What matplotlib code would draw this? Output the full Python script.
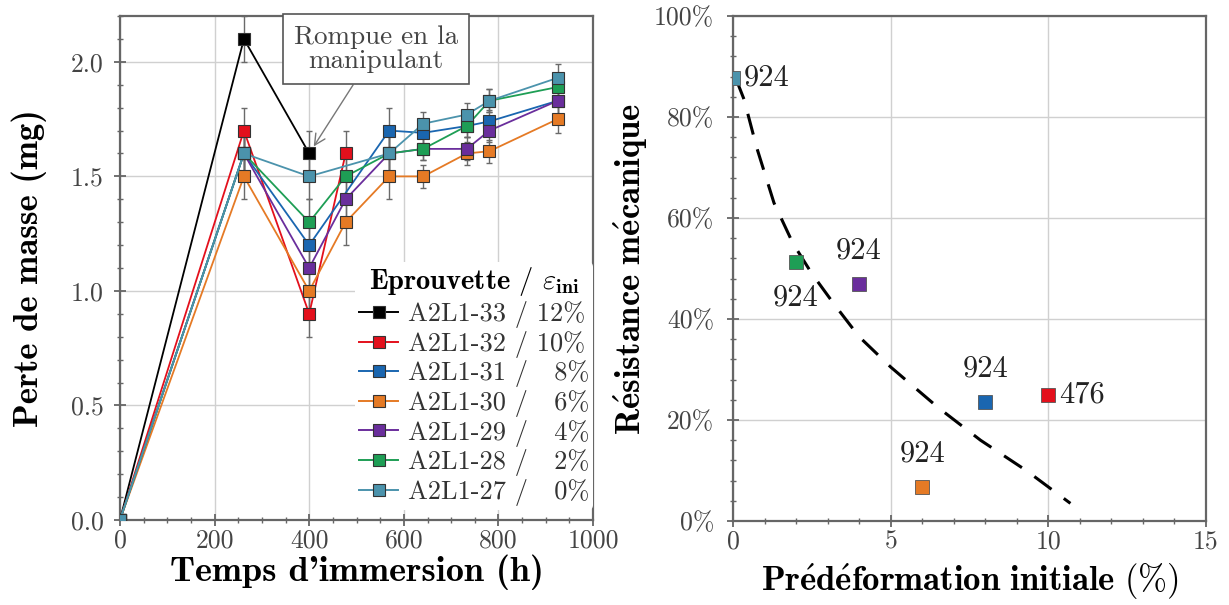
import numpy as np
import matplotlib
matplotlib.use("Agg")
import matplotlib.pyplot as plt
from matplotlib.ticker import MultipleLocator, PercentFormatter, FormatStrFormatter
from matplotlib.lines import Line2D

plt.rcParams["font.family"] = ["cmr10", "DejaVu Serif"]
plt.rcParams["mathtext.fontset"] = "cm"
plt.rcParams["axes.unicode_minus"] = False

# =====================================================
# Data - left panel (mass loss vs immersion time)
# =====================================================

times = [0, 262, 400, 477, 569, 641, 733, 781, 925]
err_mg = [0.0, 0.10, 0.10, 0.10, 0.10, 0.05, 0.05, 0.05, 0.06]

names = ["A2L1-33", "A2L1-32", "A2L1-31", "A2L1-30", "A2L1-29", "A2L1-28", "A2L1-27"]
strains = [12, 10, 8, 6, 4, 2, 0]

nan = np.nan
m_33 = [0, 2.10, 1.60, nan, nan, nan, nan, nan, nan]
m_32 = [0, 1.70, 0.90, 1.60, nan, nan, nan, nan, nan]
m_31 = [0, 1.60, 1.20, nan, 1.70, 1.69, 1.72, 1.74, 1.83]
m_30 = [0, 1.50, 1.00, 1.30, 1.50, 1.50, 1.60, 1.61, 1.75]
m_29 = [0, 1.60, 1.10, 1.40, 1.60, 1.62, 1.62, 1.70, 1.83]
m_28 = [0, 1.60, 1.30, 1.50, 1.60, 1.62, 1.72, 1.83, 1.89]
m_27 = [0, 1.60, 1.50, nan, 1.60, 1.73, 1.77, 1.83, 1.93]

# =====================================================
# Data - right panel (residual strength vs pre-strain)
# =====================================================

pre_strain = [0, 2, 4, 6, 8, 10]
resistance = [0.877, 0.513, 0.469, 0.068, 0.236, 0.250]
durations = ["924", "924", "924", "924", "924", "476"]

# trend curve
trend_x = [0.1, 0.35, 0.75, 1.3, 1.9, 2.5, 3.2, 4.0, 5.0, 6.5, 7.85, 9.3, 10.7]
trend_y = [0.875, 0.835, 0.74, 0.63, 0.55, 0.49, 0.43, 0.365, 0.305, 0.225, 0.16, 0.10, 0.035]

# =====================================================
# Style
# =====================================================

colors = ["#000000", "#E3101C", "#1A66B0", "#E57A25", "#6A2E9C", "#1E9E55", "#4B93AC"]
strain_colors = ["#4B93AC", "#1E9E55", "#6A2E9C", "#E57A25", "#1A66B0", "#E3101C"]
spine_col = "#666666"
grid_col = "#D0D0D0"
tick_fs = 18.5
bold_fam = ["cmb10", "DejaVu Serif"]


def style_axes(ax):
    for s in ax.spines.values():
        s.set_color(spine_col)
        s.set_linewidth(1.6)
    ax.tick_params(which="both", direction="inout", colors=spine_col,
                   labelcolor="#444444", labelsize=tick_fs)
    ax.tick_params(which="major", length=9, width=1.3)
    ax.tick_params(which="minor", length=5, width=1.0)
    ax.tick_params(axis="y", which="major", pad=7)
    ax.tick_params(axis="x", which="major", pad=2)
    ax.grid(True, which="major", color=grid_col, linewidth=1.0)
    ax.set_axisbelow(True)


fig = plt.figure(figsize=(12.29, 6.05), dpi=100)

# =====================================================
# Left panel
# =====================================================

ax1 = fig.add_axes([0.0976, 0.1405, 0.385, 0.833])
style_axes(ax1)

series = [m_33, m_32, m_31, m_30, m_29, m_28, m_27]
t = np.array(times, dtype=float)
e = np.array(err_mg)

handles = []
for vals, col, name, st in zip(series, colors, names, strains):
    v = np.array(vals, dtype=float)
    ok = np.isfinite(v)
    ax1.errorbar(t[ok], v[ok], yerr=e[ok], fmt="none", ecolor="#6A6A6A",
                 elinewidth=1.0, capsize=2.5, capthick=1.0, zorder=2)
    ax1.plot(t[ok], v[ok], color=col, linewidth=1.3, marker="s",
             markersize=8.5, markerfacecolor=col, markeredgecolor="#333333",
             markeredgewidth=0.8, zorder=3)
    pad = "  " if st < 10 else ""
    handles.append(Line2D([], [], color=col, linewidth=1.4, marker="s",
                          markersize=8.5, markerfacecolor=col,
                          markeredgecolor="#333333", markeredgewidth=0.8,
                          label=f"{name} / {pad}{st}%"))

ax1.set_xlim(0, 1000)
ax1.set_ylim(0, 2.2)
ax1.xaxis.set_major_locator(MultipleLocator(200))
ax1.xaxis.set_minor_locator(MultipleLocator(50))
ax1.yaxis.set_major_locator(MultipleLocator(0.5))
ax1.yaxis.set_minor_locator(MultipleLocator(0.1))
ax1.yaxis.set_major_formatter(FormatStrFormatter("%.1f"))

ax1.set_xlabel("Temps d'immersion (h)", fontsize=26, family=bold_fam, labelpad=1)
ax1.set_ylabel("Perte de masse (mg)", fontsize=25, family=bold_fam, labelpad=17)

title = r"$\mathbf{Eprouvette}$ / $\varepsilon_{\mathbf{ini}}$"
leg = ax1.legend(handles=handles, loc="lower right", bbox_to_anchor=(1.0, 0.02),
                 title=title, fontsize=19, title_fontsize=20.5, frameon=True,
                 handlelength=1.5, handletextpad=0.35, labelspacing=0.1,
                 borderpad=0.15, borderaxespad=0.0)
leg.get_frame().set_edgecolor("none")
leg.get_frame().set_facecolor("white")
leg.get_frame().set_alpha(1.0)
for txt in leg.get_texts():
    txt.set_color("#333333")

ax1.annotate("Rompue en la\nmanipulant", xy=(400, 1.60), xytext=(541, 2.055),
             fontsize=19.5, ha="center", va="center", color="#444444",
             linespacing=1.05,
             bbox=dict(boxstyle="square,pad=0.4", fc="white", ec="#555555", lw=1.2),
             arrowprops=dict(arrowstyle="->", color="#777777", lw=1.0,
                             shrinkA=0, shrinkB=6),
             zorder=5)

# =====================================================
# Right panel
# =====================================================

ax2 = fig.add_axes([0.5964, 0.1388, 0.3849, 0.8347])
style_axes(ax2)
ax2.tick_params(axis="y", which="major", pad=9)

ax2.plot(trend_x, trend_y, color="black", linewidth=2.2, dashes=(7, 5), zorder=3)

for x, y, col in zip(pre_strain, resistance, strain_colors):
    ax2.plot(x, y, marker="s", markersize=10, color=col,
             markeredgecolor="#555555", markeredgewidth=0.6, zorder=4)

# label placement: right, below, above, above, above, right
offsets = [(8, 0, "left", "center"), (0, -16, "center", "top"),
           (0, 14, "center", "bottom"), (0, 14, "center", "bottom"),
           (0, 14, "center", "bottom"), (8, 0, "left", "center")]
for x, y, lab, (dx, dy, ha, va) in zip(pre_strain, resistance, durations, offsets):
    ax2.annotate(lab, xy=(x, y), xytext=(dx, dy), textcoords="offset points",
                 ha=ha, va=va, fontsize=22, color="#222222", zorder=5)

ax2.set_xlim(0, 15)
ax2.set_ylim(0, 1.0)
ax2.xaxis.set_major_locator(MultipleLocator(5))
ax2.xaxis.set_minor_locator(MultipleLocator(1))
ax2.yaxis.set_major_locator(MultipleLocator(0.2))
ax2.yaxis.set_minor_locator(MultipleLocator(0.04))
ax2.yaxis.set_major_formatter(PercentFormatter(1.0, decimals=0))

ax2.set_xlabel(r"$\mathbf{Pr\acute{e}d\acute{e}formation\ initiale\ (\%)}$",
               fontsize=25, labelpad=6)
ax2.set_ylabel(r"$\mathbf{R\acute{e}sistance\ m\acute{e}canique}$",
               fontsize=25, labelpad=3)

fig.savefig("out.png", dpi=100)
